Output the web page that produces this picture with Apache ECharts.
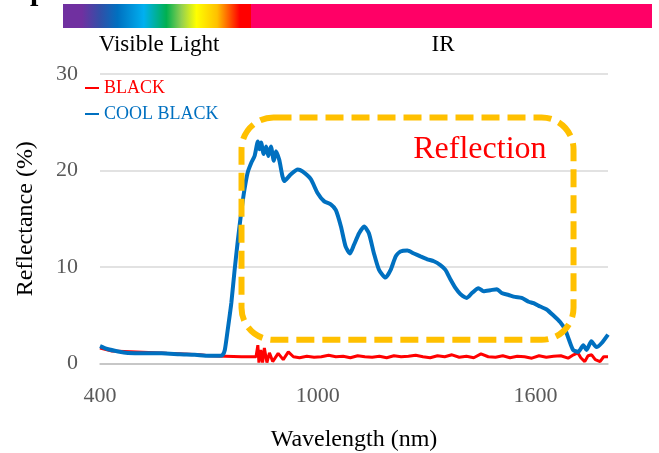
<!DOCTYPE html>
<html>
<head>
<meta charset="utf-8">
<script src="https://cdn.jsdelivr.net/npm/echarts@6/dist/echarts.min.js"></script>
<style>
  html, body { margin: 0; padding: 0; background: #fff; }
  #chart { width: 659px; height: 453px; }
</style>
</head>
<body>
<div id="chart"></div>
<script>
// wavelength (nm) / reflectance (%)
var coolBlackNm = [400, 420, 450, 477, 520, 570, 620, 661, 700, 730, 738, 744, 752, 762, 771, 780, 789, 798, 807, 817, 826, 835, 839, 844, 851, 858, 864, 871, 879, 885, 894, 908, 926, 945, 958, 981, 999, 1018, 1036, 1050, 1064, 1077, 1089, 1100, 1114, 1128, 1141, 1155, 1169, 1187, 1201, 1215, 1228, 1247, 1265, 1283, 1302, 1320, 1338, 1352, 1366, 1380, 1393, 1411, 1425, 1443, 1457, 1476, 1494, 1507, 1526, 1544, 1562, 1581, 1595, 1613, 1631, 1649, 1668, 1682, 1693, 1704, 1718, 1732, 1741, 1754, 1768, 1782, 1800];
var coolBlackPct = [1.8, 1.5, 1.25, 1.1, 1.05, 1.05, 0.95, 0.9, 0.8, 0.8, 0.9, 1.4, 3.5, 6.3, 9.7, 12.8, 15.6, 18.0, 19.8, 20.8, 21.5, 23.0, 22.2, 22.9, 21.7, 22.5, 21.5, 22.5, 21.0, 22.0, 21.1, 18.9, 19.6, 20.1, 19.9, 19.1, 17.7, 16.8, 16.5, 15.9, 14.2, 12.1, 11.4, 12.3, 13.5, 14.2, 13.5, 11.4, 9.7, 8.9, 9.7, 11.1, 11.6, 11.7, 11.4, 11.1, 10.8, 10.6, 10.2, 9.7, 8.7, 7.8, 7.2, 6.8, 7.3, 7.8, 7.5, 7.6, 7.7, 7.3, 7.1, 6.9, 6.8, 6.4, 6.25, 5.9, 5.6, 5.0, 4.3, 3.5, 2.4, 1.4, 1.2, 1.9, 1.4, 2.3, 1.7, 2.1, 3.0];

var blackNm = [400, 433, 500, 584, 675, 700, 790, 830, 835, 838, 843, 848, 853, 860, 867, 876, 891, 905, 919, 933, 950, 970, 990, 1010, 1030, 1050, 1070, 1090, 1110, 1130, 1150, 1170, 1190, 1210, 1230, 1250, 1270, 1290, 1310, 1330, 1350, 1370, 1390, 1410, 1430, 1450, 1470, 1490, 1510, 1530, 1550, 1570, 1590, 1610, 1630, 1650, 1670, 1690, 1705, 1717, 1725, 1736, 1745, 1755, 1765, 1778, 1788, 1800];
var blackPct = [1.6, 1.3, 1.2, 1.05, 0.9, 0.8, 0.7, 0.7, 1.9, 0.1, 1.4, 0.1, 1.6, 0.1, 1.1, 0.2, 1.05, 0.4, 1.2, 0.7, 0.6, 0.75, 0.65, 0.7, 0.85, 0.7, 0.75, 0.6, 0.8, 0.7, 0.65, 0.75, 0.6, 0.8, 0.7, 0.75, 0.85, 0.7, 0.6, 0.8, 0.7, 0.9, 0.65, 0.75, 0.6, 1.0, 0.7, 0.65, 0.8, 0.6, 0.75, 0.7, 0.55, 0.8, 0.65, 0.75, 0.8, 0.55, 0.9, 1.1, 0.6, 0.2, 0.8, 0.9, 0.4, 0.2, 0.7, 0.7];

var xTicks = [400, 1000, 1600];
var yTicks = [0, 10, 20, 30];

// annotation box corners in data units: [nm, %]
var boxFrom = [790, 25.5];
var boxTo = [1705, 2.45];
var reflectionAt = [1447, 22.2];

var serif = '"Liberation Serif", "DejaVu Serif", serif';

function zip(xs, ys) {
  return xs.map(function (x, i) { return [x, ys[i]]; });
}

var chart = echarts.init(document.getElementById('chart'));

chart.setOption({
  animation: false,
  grid: { left: 100, right: 51, top: 74, bottom: 89.5, outerBoundsMode: 'none' },
  legend: {
    orient: 'vertical',
    left: 85,
    top: 79,
    padding: 0,
    icon: 'rect',
    itemWidth: 14,
    itemHeight: 2,
    itemGap: 8,
    textStyle: { fontFamily: serif, fontSize: 18 },
    data: [
      { name: 'BLACK', textStyle: { color: '#FF0000' } },
      { name: 'COOL BLACK', textStyle: { color: '#0070C0' } }
    ]
  },
  xAxis: {
    type: 'value',
    min: 400,
    max: 1800,
    interval: 600,
    name: 'Wavelength (nm)',
    nameLocation: 'middle',
    nameGap: 64,
    nameTextStyle: { fontFamily: serif, fontSize: 24, color: '#000' },
    axisLine: { lineStyle: { color: '#BFBFBF', width: 1.5 } },
    axisTick: { show: false },
    splitLine: { show: false },
    axisLabel: {
      margin: 22,
      fontFamily: serif,
      fontSize: 22,
      color: '#595959',
      formatter: function (v) { return xTicks.indexOf(v) >= 0 ? String(v) : ''; }
    }
  },
  yAxis: {
    type: 'value',
    min: yTicks[0],
    max: yTicks[yTicks.length - 1],
    interval: 10,
    name: 'Reflectance (%)',
    nameLocation: 'middle',
    nameGap: 62,
    nameTextStyle: { fontFamily: serif, fontSize: 24, color: '#000' },
    axisLine: { show: false },
    axisTick: { show: false },
    splitLine: { lineStyle: { color: '#D9D9D9', width: 1.5 } },
    axisLabel: { margin: 22, fontFamily: serif, fontSize: 22, color: '#595959' }
  },
  series: [
    {
      name: 'BLACK',
      type: 'line',
      data: zip(blackNm, blackPct),
      showSymbol: false,
      color: '#FF0000',
      lineStyle: { color: '#FF0000', width: 3 }
    },
    {
      name: 'COOL BLACK',
      type: 'line',
      data: zip(coolBlackNm, coolBlackPct),
      showSymbol: false,
      smooth: 0.2,
      color: '#0070C0',
      lineStyle: { color: '#0070C0', width: 4 }
    }
  ]
});

// decorations: spectrum bar, region labels, dashed box
var p1 = chart.convertToPixel({ gridIndex: 0 }, boxFrom);
var p2 = chart.convertToPixel({ gridIndex: 0 }, boxTo);
var pt = chart.convertToPixel({ gridIndex: 0 }, reflectionAt);

chart.setOption({
  graphic: [
    {
      type: 'rect',
      shape: { x: 63, y: 4, width: 188, height: 24 },
      style: {
        fill: new echarts.graphic.LinearGradient(0, 0, 1, 0, [
          { offset: 0, color: '#7030A0' },
          { offset: 0.1, color: '#7030A0' },
          { offset: 0.2, color: '#3050A8' },
          { offset: 0.29, color: '#0070C0' },
          { offset: 0.43, color: '#00B0F0' },
          { offset: 0.55, color: '#00B050' },
          { offset: 0.63, color: '#92D050' },
          { offset: 0.71, color: '#FFFF00' },
          { offset: 0.82, color: '#FFC000' },
          { offset: 0.94, color: '#FF0000' },
          { offset: 1, color: '#FF0000' }
        ])
      },
      silent: true
    },
    {
      type: 'rect',
      shape: { x: 251, y: 4, width: 401, height: 24 },
      style: { fill: '#FF0066' },
      silent: true
    },
    {
      type: 'text',
      x: 30, y: 7,
      style: { text: 'p', font: 'bold 30px ' + serif, fill: '#000', align: 'left', verticalAlign: 'bottom' },
      silent: true
    },
    {
      type: 'text',
      x: 159, y: 45,
      style: { text: 'Visible Light', font: '23px ' + serif, fill: '#000', align: 'center', verticalAlign: 'middle' },
      silent: true
    },
    {
      type: 'text',
      x: 443, y: 45,
      style: { text: 'IR', font: '23px ' + serif, fill: '#000', align: 'center', verticalAlign: 'middle' },
      silent: true
    },
    {
      type: 'rect',
      shape: { x: p1[0], y: p1[1], width: p2[0] - p1[0], height: p2[1] - p1[1], r: 32 },
      style: { fill: 'none', stroke: '#FFC000', lineWidth: 6, lineDash: [18, 8] },
      z: 10,
      silent: true
    },
    {
      type: 'text',
      x: pt[0], y: pt[1],
      style: { text: 'Reflection', font: '32px ' + serif, fill: '#FF0000', align: 'center', verticalAlign: 'middle' },
      z: 11,
      silent: true
    }
  ]
});
</script>
</body>
</html>
